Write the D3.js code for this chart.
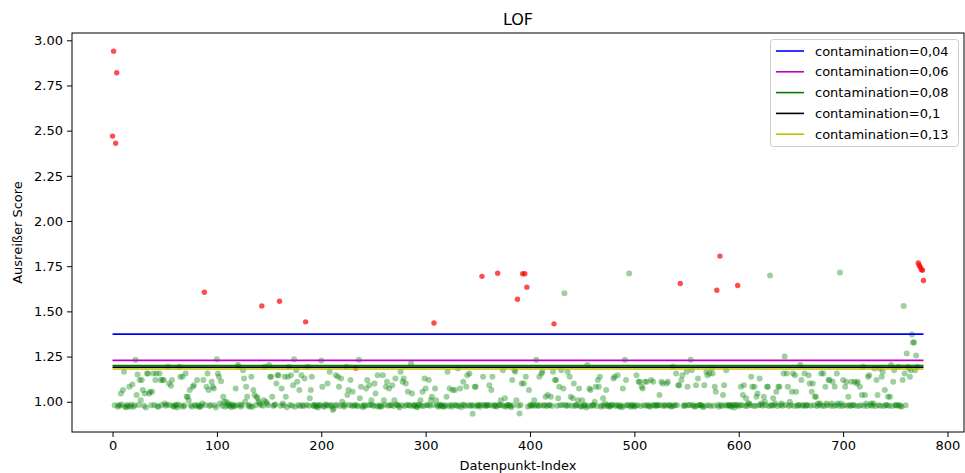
<!DOCTYPE html>
<html><head><meta charset="utf-8">
<script src="https://cdn.jsdelivr.net/npm/d3@7"></script>
<style>
body{margin:0;background:#fff;}
svg{display:block;font-family:"DejaVu Sans",sans-serif;}
</style>
</head><body><svg id="c" width="965" height="473"></svg>
<script>
// ---------- DATA ----------
const scores = [
2.47,2.94,0.98,2.43,2.82,0.973,0.982,0.978,1.046,0.985,
1.065,1.166,0.973,0.97,0.982,0.976,1.083,0.973,0.984,1.096,
0.973,0.98,1.232,1.037,1.151,0.982,1.12,1.009,1.12,1.065,
0.978,1.046,0.968,1.157,1.157,1.046,1.055,0.98,1.055,1.157,
0.982,1.12,1.157,0.975,0.972,1.157,1.12,0.982,1.12,1.12,
0.991,0.978,0.984,1.194,1.101,0.982,1.089,1.12,0.976,0.972,
0.98,0.982,0.968,0.985,1.194,1.138,0.978,1.138,0.973,0.98,
1.157,1.028,1.028,1.009,1.065,0.98,0.973,1.083,1.092,0.982,
0.976,1.12,0.98,0.972,0.973,0.978,0.991,1.12,1.606,0.982,
1.083,1.157,1.065,0.976,0.982,1.11,1.083,1.074,0.98,0.968,
1.235,1.157,1.138,0.991,1.114,0.978,1.028,1.0,0.973,1.0,
0.98,0.991,0.976,0.982,0.97,0.985,0.978,0.975,1.074,0.98,
1.203,1.194,0.984,0.973,0.982,1.175,1.129,1.0,1.083,1.028,
0.976,0.982,0.972,1.138,0.973,1.065,1.037,0.98,1.028,1.019,
1.0,0.991,0.982,1.53,0.978,1.009,1.194,1.0,0.991,0.98,
1.203,1.138,1.138,1.028,0.976,0.982,0.985,1.101,1.147,1.147,
1.556,0.978,1.074,0.991,0.98,1.138,1.028,0.97,1.138,1.194,
0.982,1.147,0.978,1.092,1.235,0.973,1.175,1.11,0.982,1.065,
0.976,1.147,0.982,0.975,1.129,1.442,0.982,1.194,0.978,1.019,
1.065,1.138,0.98,0.976,0.984,0.972,0.978,0.968,0.982,0.98,
1.228,1.083,0.976,0.973,0.985,0.982,1.101,0.978,1.166,0.982,
0.976,0.954,0.963,0.98,1.147,0.982,1.138,1.083,0.976,1.129,
1.0,0.98,0.973,0.984,1.194,1.037,1.065,0.982,1.12,0.978,
1.055,0.976,0.982,1.186,0.98,0.975,1.232,1.019,1.083,0.978,
0.97,0.982,0.976,1.074,1.12,0.98,1.092,0.984,1.009,0.982,
0.976,1.101,1.046,0.978,1.147,0.973,0.98,0.972,0.976,1.147,
1.009,0.984,1.083,1.11,0.978,1.074,0.98,0.982,1.092,0.976,
1.009,1.129,0.985,0.982,0.978,0.968,1.166,0.98,1.11,1.129,
0.976,1.101,0.982,1.055,0.982,0.978,1.212,1.046,0.976,0.982,
0.98,0.973,0.97,0.984,0.982,1.009,0.978,1.055,0.976,1.129,
1.074,0.98,0.982,1.12,0.978,1.009,1.028,0.982,1.436,1.074,
1.009,0.98,0.973,0.982,0.976,0.984,0.978,0.972,0.975,0.98,
1.028,1.166,0.976,1.074,0.982,0.973,1.065,0.98,1.065,0.982,
0.976,1.184,0.978,1.074,0.97,0.984,1.11,0.982,0.976,1.083,
1.147,0.98,1.157,0.976,0.982,0.933,0.978,1.083,1.083,0.976,
0.982,0.98,0.972,0.982,1.694,1.138,0.982,0.976,0.982,0.978,
0.982,1.092,0.98,1.065,1.138,0.976,0.982,0.978,0.972,1.711,
0.982,0.982,1.009,0.98,1.175,0.976,1.019,0.973,0.98,0.982,
0.982,0.976,0.97,1.12,0.98,1.175,1.166,1.009,1.567,0.978,
0.935,0.982,1.101,1.708,1.101,1.708,1.138,1.634,0.973,1.065,
0.98,0.982,0.976,0.982,1.009,0.978,1.233,0.982,0.976,1.138,
0.98,1.157,1.166,0.978,0.982,1.028,0.976,1.037,0.98,0.982,
1.028,0.976,1.166,1.431,1.12,1.12,0.978,1.019,1.083,0.98,
1.175,0.982,1.074,1.60,0.982,0.976,1.166,0.98,1.138,1.028,
0.978,1.019,1.101,0.976,0.982,0.98,1.009,1.074,0.978,0.972,
1.009,0.976,0.982,0.98,0.968,1.203,0.978,1.074,1.065,0.976,
0.982,0.98,1.0,1.083,0.976,1.12,1.083,1.138,0.973,0.98,
1.019,0.976,0.991,1.065,0.978,0.982,0.972,0.976,0.98,0.984,
1.129,1.138,0.976,0.982,1.147,0.978,0.973,0.98,0.97,1.074,
0.976,1.233,1.12,0.98,0.982,1.71,0.973,0.982,0.976,0.982,
0.972,0.978,1.147,0.98,1.11,1.11,0.976,1.083,1.074,0.98,
1.11,0.978,1.11,0.982,0.976,0.972,1.12,0.98,1.11,0.982,
0.976,0.982,0.978,0.982,1.037,0.98,1.11,1.101,0.976,0.982,
0.978,1.101,1.11,0.98,0.982,0.972,0.976,1.194,0.978,0.982,
1.157,0.98,1.092,1.092,1.654,1.12,1.147,0.976,0.982,0.978,
1.166,1.083,0.98,0.982,1.233,1.175,0.982,0.976,0.972,1.092,
0.978,1.129,0.982,0.98,0.982,0.976,0.97,1.092,0.978,1.166,
1.147,0.98,1.157,0.976,1.184,1.157,0.978,1.083,1.055,1.617,
0.982,0.972,1.806,0.982,0.976,1.037,1.092,0.98,1.175,0.978,
0.982,0.982,0.976,0.972,0.982,0.98,0.968,0.982,0.982,1.643,
0.976,0.982,1.083,0.98,1.037,1.092,0.978,1.019,0.976,0.991,
0.991,0.98,1.138,1.083,0.978,1.083,0.976,1.028,1.046,0.98,
1.129,0.982,0.991,0.978,1.028,1.0,0.98,1.083,1.083,0.976,
1.698,0.982,0.978,1.019,0.98,0.991,1.055,0.976,1.083,1.083,
0.98,0.991,0.978,1.157,1.251,0.982,1.157,1.083,0.976,1.0,
0.98,1.055,1.157,0.978,1.147,1.055,0.976,0.982,0.98,1.203,
1.12,0.978,0.982,1.157,0.976,0.982,0.98,1.147,1.101,0.978,
1.055,1.101,0.98,1.028,1.028,0.976,0.991,0.98,0.991,1.157,
0.978,1.157,0.976,1.083,0.991,0.98,1.12,1.12,0.978,0.991,
1.11,0.976,1.083,0.98,1.157,0.991,0.978,1.715,0.991,0.976,
1.12,0.98,1.083,1.11,0.978,1.028,0.982,0.976,1.11,0.98,
0.982,1.11,0.978,1.101,1.11,0.976,1.083,0.98,1.037,1.194,
0.978,1.037,0.991,0.976,1.138,1.147,0.98,0.991,0.978,0.991,
1.184,0.976,1.12,1.037,0.98,1.184,0.978,1.138,1.166,0.976,
1.065,0.982,0.98,1.028,0.978,1.028,1.203,0.976,1.11,1.175,
0.98,0.982,0.978,1.194,0.982,0.976,0.972,1.12,1.53,1.157,
0.98,1.267,1.194,1.185,1.138,1.175,1.372,1.328,1.328,1.175,
1.256,1.194,1.768,1.755,1.745,1.732,1.728,1.671
];
const outlierIdx = [0,1,3,4,88,143,160,185,233,308,354,369,388,393,395,397,423,544,579,582,599,772,773,774,775,776,777];
const thresholdLabels = ["contamination=0,04","contamination=0,06","contamination=0,08","contamination=0,1","contamination=0,13"];
const thresholdValues = [1.374, 1.229, 1.200, 1.191, 1.181];
const xTickValues = [0,100,200,300,400,500,600,700,800];
const yTickValues = [1.00,1.25,1.50,1.75,2.00,2.25,2.50,2.75,3.00];
const titleText = "LOF";
const xLabelText = "Datenpunkt-Index";
const yLabelText = "Ausreißer Score";

// ---------- STYLE ----------
const thresholdColors = ["#0000ff","#bf00bf","#008000","#000000","#bfbf00"];
const W = 965, H = 473;
const m = {left:72, right:964, top:33, bottom:432};

const svg = d3.select("#c");
const n = scores.length;
const xMargin = (n-1)*0.05;
const xs = d3.scaleLinear().domain([-xMargin, (n-1)+xMargin]).range([m.left, m.right]);
const yMin = d3.min(scores), yMax = d3.max(scores);
const yPad = (yMax - yMin)*0.05;
const ys = d3.scaleLinear().domain([yMin - yPad, yMax + yPad]).range([m.bottom, m.top]);

const outSet = new Set(outlierIdx);
const pts = scores.map((v,i)=>({i, v, out: outSet.has(i)}));

svg.append("rect").attr("x",0).attr("y",0).attr("width",W).attr("height",H).attr("fill","#fff");

svg.append("defs").append("clipPath").attr("id","clipA")
  .append("rect").attr("x",m.left).attr("y",m.top).attr("width",m.right-m.left).attr("height",m.bottom-m.top);

const plot = svg.append("g").attr("clip-path","url(#clipA)");

plot.append("g").selectAll("circle").data(pts.filter(d=>!d.out)).join("circle")
  .attr("cx",d=>xs(d.i)).attr("cy",d=>ys(d.v)).attr("r",3.0)
  .attr("fill","#008000").attr("fill-opacity",0.38);

plot.append("g").selectAll("circle").data(pts.filter(d=>d.out)).join("circle")
  .attr("cx",d=>xs(d.i)).attr("cy",d=>ys(d.v)).attr("r",2.7)
  .attr("fill","#ff0000").attr("fill-opacity",0.7);

plot.append("g").selectAll("line").data(thresholdValues).join("line")
  .attr("x1",xs(0)).attr("x2",xs(n-1))
  .attr("y1",d=>ys(d)).attr("y2",d=>ys(d))
  .attr("stroke",(d,i)=>thresholdColors[i]).attr("stroke-width",1.6);

// axes
const xAxis = d3.axisBottom(xs).tickValues(xTickValues).tickSize(5).tickPadding(4).tickFormat(d3.format("d"));
const yAxis = d3.axisLeft(ys).tickValues(yTickValues).tickSize(5).tickPadding(4).tickFormat(d3.format(".2f"));
const gx = svg.append("g").attr("transform",`translate(0,${m.bottom})`).call(xAxis);
const gy = svg.append("g").attr("transform",`translate(${m.left},0)`).call(yAxis);
[gx,gy].forEach(g=>{
  g.select(".domain").remove();
  g.selectAll("text").attr("font-size",13).attr("font-family","DejaVu Sans").attr("fill","#000");
  g.selectAll("line").attr("stroke","#000").attr("stroke-width",1);
});

// frame
svg.append("rect").attr("x",m.left).attr("y",m.top).attr("width",m.right-m.left).attr("height",m.bottom-m.top)
  .attr("fill","none").attr("stroke","#000").attr("stroke-width",1);

// labels
svg.append("text").attr("x",(m.left+m.right)/2).attr("y",25).attr("text-anchor","middle")
  .attr("font-size",16).text(titleText);
svg.append("text").attr("x",(m.left+m.right)/2).attr("y",470).attr("text-anchor","middle")
  .attr("font-size",13).text(xLabelText);
svg.append("text").attr("transform",`translate(22,${(m.top+m.bottom)/2}) rotate(-90)`).attr("text-anchor","middle")
  .attr("font-size",13).text(yLabelText);

// legend
const lg = svg.append("g").attr("transform","translate(770.5,39.5)");
lg.append("rect").attr("width",188).attr("height",107).attr("rx",3)
  .attr("fill","#fff").attr("fill-opacity",0.8).attr("stroke","#cccccc").attr("stroke-width",1);
thresholdLabels.forEach((t,i)=>{
  const yy = 11.5 + i*20.8;
  lg.append("line").attr("x1",5.5).attr("x2",33.5).attr("y1",yy).attr("y2",yy)
    .attr("stroke",thresholdColors[i]).attr("stroke-width",1.6);
  lg.append("text").attr("x",44.5).attr("y",yy+4.6).attr("font-size",13).attr("fill","#000").text(t);
});
</script>
</body></html>
